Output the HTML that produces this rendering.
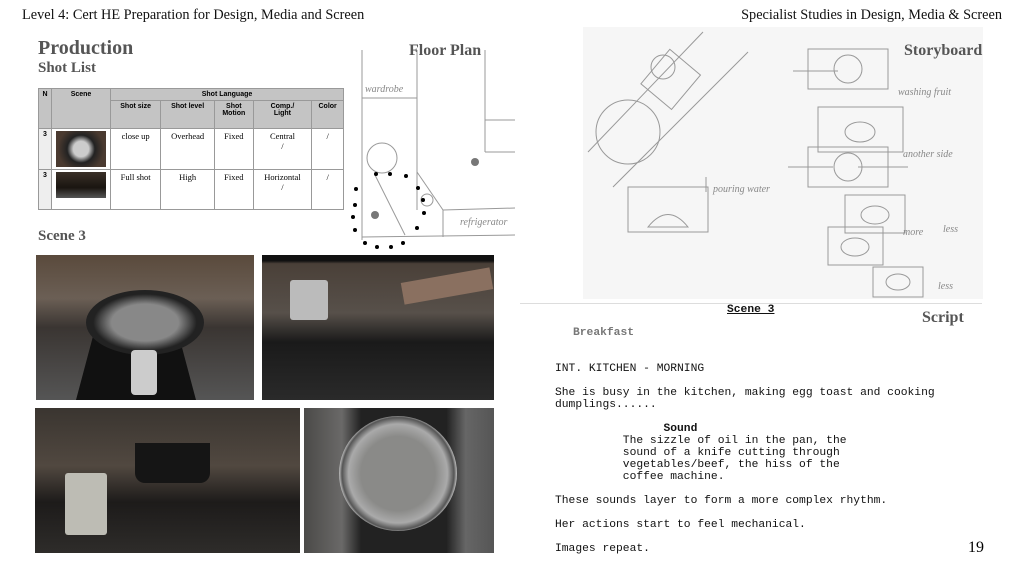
<!DOCTYPE html>
<html><head><meta charset="utf-8"><style>
*{margin:0;padding:0;box-sizing:border-box}
body{width:1024px;height:576px;background:#fff;position:relative;overflow:hidden;font-family:"Liberation Serif",serif}
.a{position:absolute}
.h{font-size:14.3px;color:#111;top:7px}
.t{font-weight:bold;color:#555}
.mono{font-family:"Liberation Mono",monospace;font-size:11.3px;color:#111;white-space:pre;line-height:12px}
table{border-collapse:collapse;font-size:8.5px}
td{border:1px solid #999;text-align:center;vertical-align:top;padding:2px 1px;font-family:"Liberation Serif",serif}
td.g{background:#c4c4c4;font-family:"Liberation Sans",sans-serif;font-weight:bold;font-size:7px}
</style></head><body>
<div class="a h" style="left:22px">Level 4: Cert HE Preparation for Design, Media and Screen</div>
<div class="a h" style="right:22px">Specialist Studies in Design, Media &amp; Screen</div>

<div class="a t" style="left:38px;top:37px;font-size:20px">Production</div>
<div class="a t" style="left:38px;top:60px;font-size:15px">Shot List</div>

<table class="a" style="left:38px;top:88px;width:306px">
<tr style="height:12px"><td class="g" rowspan="2" style="width:13px">N</td><td class="g" rowspan="2" style="width:59px">Scene</td><td class="g" colspan="5">Shot Language</td></tr>
<tr style="height:28px"><td class="g">Shot size</td><td class="g">Shot level</td><td class="g">Shot<br>Motion</td><td class="g">Comp./<br>Light</td><td class="g">Color</td></tr>
<tr style="height:40px"><td style="font-family:Liberation Sans;font-weight:bold;font-size:7px;background:#eee">3</td><td><div style="width:50px;height:36px;margin:auto;background:radial-gradient(circle,#ccc 25%,#222 45%,#4a3a30 75%)"></div></td><td>close up</td><td>Overhead</td><td>Fixed</td><td>Central<br>/</td><td>/</td></tr>
<tr style="height:40px"><td style="font-family:Liberation Sans;font-weight:bold;font-size:7px;background:#eee">3</td><td><div style="width:50px;height:26px;margin:auto;background:linear-gradient(#3a3028,#1a1510 60%,#555)"></div></td><td>Full shot</td><td>High</td><td>Fixed</td><td>Horizontal<br>/</td><td>/</td></tr>
</table>

<!-- floor plan -->
<svg class="a" style="left:345px;top:40px" width="170" height="210" viewBox="0 0 170 210">
<g stroke="#999" fill="none" stroke-width="1">
<line x1="17" y1="10" x2="17" y2="200"/><line x1="17" y1="58" x2="72" y2="58"/>
<line x1="72" y1="10" x2="72" y2="170"/><line x1="140" y1="10" x2="140" y2="80"/>
<line x1="140" y1="80" x2="170" y2="80"/><line x1="140" y1="80" x2="140" y2="112"/><line x1="140" y1="112" x2="170" y2="112"/>
<line x1="72" y1="132" x2="98" y2="170"/><line x1="98" y1="170" x2="170" y2="168"/>
<line x1="98" y1="170" x2="98" y2="197"/><line x1="17" y1="197" x2="170" y2="195"/>
<line x1="30" y1="135" x2="60" y2="195"/>
<circle cx="37" cy="118" r="15"/><circle cx="82" cy="160" r="6"/>
</g>
<circle cx="130" cy="122" r="4" fill="#777"/><circle cx="30" cy="175" r="4" fill="#777"/>
<text x="20" y="52" font-size="10" fill="#888" font-family="Liberation Serif" font-style="italic">wardrobe</text>
<text x="115" y="185" font-size="10" fill="#888" font-family="Liberation Serif" font-style="italic">refrigerator</text>
<g fill="#000"><circle cx="11" cy="149" r="2"/><circle cx="10" cy="165" r="2"/><circle cx="8" cy="177" r="2"/><circle cx="10" cy="190" r="2"/><circle cx="20" cy="203" r="2"/><circle cx="32" cy="207" r="2"/><circle cx="46" cy="207" r="2"/><circle cx="58" cy="203" r="2"/><circle cx="72" cy="188" r="2"/><circle cx="79" cy="173" r="2"/><circle cx="78" cy="160" r="2"/><circle cx="73" cy="148" r="2"/><circle cx="61" cy="136" r="2"/><circle cx="45" cy="134" r="2"/><circle cx="31" cy="134" r="2"/></g>
</svg>
<div class="a t" style="left:409px;top:42px;font-size:16px">Floor Plan</div>

<div class="a t" style="left:38px;top:228px;font-size:15px">Scene 3</div>

<!-- photos -->
<div class="a" style="left:36px;top:255px;width:218px;height:145px;background:linear-gradient(#5a4a3c,#6b5f55 30%,#3a3532 50%,#555 100%)">
<div class="a" style="left:40px;top:55px;width:120px;height:90px;background:#111;clip-path:polygon(20% 0,80% 0,100% 100%,0 100%)"></div>
<div class="a" style="left:50px;top:35px;width:118px;height:65px;border-radius:50%;background:radial-gradient(ellipse,#888 40%,#222 62%)"></div>
<div class="a" style="left:95px;top:95px;width:26px;height:45px;background:#ccc;border-radius:4px"></div>
</div>
<div class="a" style="left:262px;top:255px;width:232px;height:145px;background:linear-gradient(#111 4%,#4a4038 6%,#57504a 40%,#1a1a1a 60%,#2a2a2a)">
<div class="a" style="left:28px;top:25px;width:38px;height:40px;background:#bbb;border-radius:3px"></div>
<div class="a" style="left:140px;top:20px;width:90px;height:22px;background:#8a7060;transform:rotate(-10deg)"></div>
</div>
<div class="a" style="left:35px;top:408px;width:265px;height:145px;background:linear-gradient(#3a3530,#514840 40%,#1d1b1a 65%,#2e2c2a)">
<div class="a" style="left:100px;top:35px;width:75px;height:40px;background:#151515;border-radius:0 0 10px 10px"></div>
<div class="a" style="left:30px;top:65px;width:42px;height:62px;background:#bdbcb4;border-radius:3px"></div>
</div>
<div class="a" style="left:304px;top:408px;width:190px;height:145px;background:linear-gradient(90deg,#4b4a48,#6a6968 20%,#222 30%,#222 75%,#666 85%,#555)">
<div class="a" style="left:35px;top:8px;width:118px;height:115px;border-radius:50%;background:radial-gradient(circle,#8a8a88 45%,#aaa 60%,#555 68%,#ccc 72%,#333 76%)"></div>
</div>

<!-- storyboard -->
<svg class="a" style="left:583px;top:27px" width="400" height="272" viewBox="0 0 400 272">
<rect width="400" height="272" fill="#f6f6f6"/>
<g stroke="#999" fill="none" stroke-width="1">
<line x1="5" y1="125" x2="120" y2="5"/><line x1="30" y1="160" x2="165" y2="25"/>
<circle cx="45" cy="105" r="32"/><rect x="68" y="30" width="40" height="45" transform="rotate(40 88 52)"/>
<circle cx="80" cy="40" r="12"/>
<rect x="45" y="160" width="80" height="45"/>
<path d="M65 200 Q85 175 105 200 Z"/>
<line x1="123" y1="150" x2="123" y2="165"/>
</g>
<g transform="translate(225,22)" stroke="#999" fill="none"><rect x="0" y="0" width="80" height="40"/><circle cx="40" cy="20" r="14"/><line x1="-15" y1="22" x2="30" y2="22"/></g>
<g transform="translate(235,80)" stroke="#999" fill="none"><rect x="0" y="0" width="85" height="45"/><ellipse cx="42" cy="25" rx="15" ry="10"/></g>
<g transform="translate(225,120)" stroke="#999" fill="none"><rect x="0" y="0" width="80" height="40"/><circle cx="40" cy="20" r="14"/><line x1="-20" y1="20" x2="25" y2="20"/><line x1="50" y1="20" x2="100" y2="20"/></g>
<g transform="translate(262,168)" stroke="#999" fill="none"><rect x="0" y="0" width="60" height="38"/><ellipse cx="30" cy="20" rx="14" ry="9"/></g>
<g transform="translate(245,200)" stroke="#999" fill="none"><rect x="0" y="0" width="55" height="38"/><ellipse cx="27" cy="20" rx="14" ry="9"/></g>
<g transform="translate(290,240)" stroke="#999" fill="none"><rect x="0" y="0" width="50" height="30"/><ellipse cx="25" cy="15" rx="12" ry="8"/></g>
<g font-family="Liberation Serif" font-style="italic" font-size="10" fill="#888">
<text x="315" y="68">washing fruit</text><text x="320" y="130">another side</text>
<text x="130" y="165">pouring water</text><text x="360" y="205">less</text><text x="355" y="262">less</text><text x="320" y="208">more</text></g>
</svg>
<div class="a t" style="left:904px;top:42px;font-size:16px">Storyboard</div>
<div class="a" style="left:520px;top:303px;width:462px;height:1px;background:#ddd"></div>

<!-- script -->
<div class="a mono" style="left:727px;top:304px;font-weight:bold;text-decoration:underline">Scene 3</div>
<div class="a t" style="left:922px;top:309px;font-size:16px">Script</div>
<div class="a mono" style="left:573px;top:327px;font-weight:bold;color:#777">Breakfast</div>
<div class="a mono" style="left:555px;top:363px">INT. KITCHEN - MORNING

She is busy in the kitchen, making egg toast and cooking
dumplings......

                <b>Sound</b>
          The sizzle of oil in the pan, the
          sound of a knife cutting through
          vegetables/beef, the hiss of the
          coffee machine.

These sounds layer to form a more complex rhythm.

Her actions start to feel mechanical.

Images repeat.</div>
<div class="a" style="left:968px;top:539px;font-size:16px">19</div>
</body></html>
